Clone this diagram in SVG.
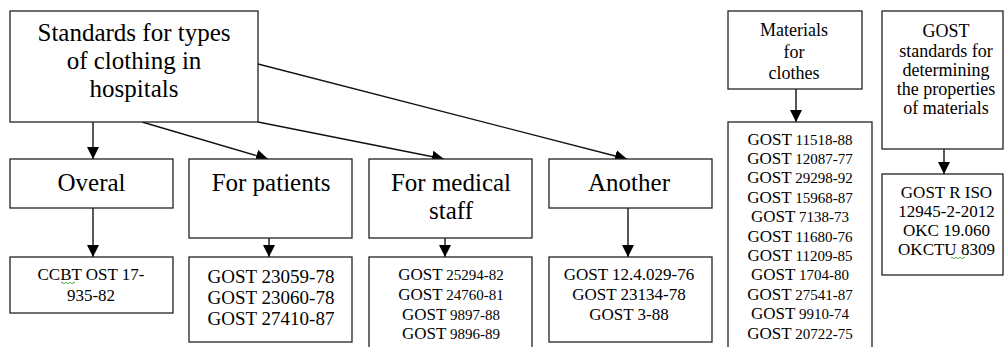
<svg xmlns="http://www.w3.org/2000/svg" width="1005" height="347" viewBox="0 0 1005 347">
<style>
.box{fill:#fff;stroke:#222;stroke-width:1.3}
.t{font-family:"Liberation Serif","Times New Roman",serif;fill:#000;text-anchor:middle}
.big{font-size:25px}
.m{font-size:17px}
.n{font-size:15px}
.g{font-size:17px}
.c{stroke:#111;stroke-width:1.4;fill:none;marker-end:url(#ah)}
.sq{stroke:#3a3;stroke-width:0.9;fill:none}
</style>
<defs>
<marker id="ah" markerUnits="userSpaceOnUse" markerWidth="13" markerHeight="13" refX="12" refY="6" orient="auto">
<path d="M0,0 L12,6 L0,12 z" fill="#000"/>
</marker>
</defs>
<rect width="1005" height="347" fill="#fff"/>
<g id="connectors">
<line class="c" x1="93" y1="122" x2="93" y2="159"/>
<line class="c" x1="142" y1="122" x2="268" y2="159"/>
<line class="c" x1="258" y1="122" x2="444" y2="159"/>
<line class="c" x1="258" y1="64" x2="627" y2="159"/>
<line class="c" x1="93" y1="208" x2="93" y2="257"/>
<line class="c" x1="269" y1="238" x2="269" y2="257"/>
<line class="c" x1="445" y1="238" x2="445" y2="257"/>
<line class="c" x1="628" y1="208" x2="628" y2="257"/>
<line class="c" x1="796" y1="89" x2="796" y2="122"/>
<line class="c" x1="944" y1="149" x2="944" y2="174"/>
</g>
<g id="root">
<rect class="box" x="10" y="11" width="248" height="111"/>
<text class="t big" x="134" y="41">Standards for types</text>
<text class="t big" x="134" y="69">of clothing in</text>
<text class="t big" x="134" y="97">hospitals</text>
</g>
<g id="overal">
<rect class="box" x="10" y="159" width="163" height="49"/>
<text class="t big" x="91.5" y="190.5">Overal</text>
</g>
<g id="patients">
<rect class="box" x="189" y="159" width="163" height="79"/>
<text class="t big" x="271" y="190.5">For patients</text>
</g>
<g id="medical">
<rect class="box" x="369" y="159" width="163" height="79"/>
<text class="t big" x="451" y="190.5">For medical</text>
<text class="t big" x="451" y="218.5">staff</text>
</g>
<g id="another">
<rect class="box" x="549" y="159" width="163" height="49"/>
<text class="t big" x="629" y="190.5">Another</text>
</g>
<g id="overal-list">
<rect class="box" x="10" y="257" width="163" height="56"/>
<text class="t m" x="91" y="280">CCBT OST 17-</text>
<text class="t m" x="91" y="300.5">935-82</text>
<path class="sq" d="M61,283 q1,-1.5 2,0 t2,0 t2,0 t2,0 t2,0 t2,0 t2,0"/>
</g>
<g id="patients-list">
<rect class="box" x="189" y="257" width="163" height="85"/>
<text class="t" style="font-size:19px" x="271" y="283">GOST 23059-78</text>
<text class="t" style="font-size:19px" x="271" y="304">GOST 23060-78</text>
<text class="t" style="font-size:19px" x="271" y="325">GOST 27410-87</text>
</g>
<g id="medical-list">
<rect class="box" x="369" y="257" width="163" height="95"/>
<text class="t" x="451" y="280"><tspan class="g">GOST</tspan><tspan class="n"> 25294-82</tspan></text>
<text class="t" x="451" y="300"><tspan class="g">GOST</tspan><tspan class="n"> 24760-81</tspan></text>
<text class="t" x="451" y="319.5"><tspan class="g">GOST</tspan><tspan class="n"> 9897-88</tspan></text>
<text class="t" x="451" y="339"><tspan class="g">GOST</tspan><tspan class="n"> 9896-89</tspan></text>
</g>
<g id="another-list">
<rect class="box" x="549" y="257" width="163" height="85"/>
<text class="t m" x="629" y="279.5">GOST 12.4.029-76</text>
<text class="t m" x="629" y="299.5">GOST 23134-78</text>
<text class="t m" x="629" y="319.5">GOST 3-88</text>
</g>
<g id="materials">
<rect class="box" x="728" y="11" width="134" height="78"/>
<text class="t" style="font-size:18px" x="794" y="36">Materials</text>
<text class="t" style="font-size:18px" x="794" y="57.5">for</text>
<text class="t" style="font-size:18px" x="794" y="79">clothes</text>
</g>
<g id="materials-list">
<rect class="box" x="728" y="122" width="144" height="230"/>
<text class="t" x="800" y="144.5"><tspan class="g">GOST</tspan><tspan class="n"> 11518-88</tspan></text>
<text class="t" x="800" y="163.9"><tspan class="g">GOST</tspan><tspan class="n"> 12087-77</tspan></text>
<text class="t" x="800" y="183.3"><tspan class="g">GOST</tspan><tspan class="n"> 29298-92</tspan></text>
<text class="t" x="800" y="202.7"><tspan class="g">GOST</tspan><tspan class="n"> 15968-87</tspan></text>
<text class="t" x="800" y="222.1"><tspan class="g">GOST</tspan><tspan class="n"> 7138-73</tspan></text>
<text class="t" x="800" y="241.5"><tspan class="g">GOST</tspan><tspan class="n"> 11680-76</tspan></text>
<text class="t" x="800" y="260.9"><tspan class="g">GOST</tspan><tspan class="n"> 11209-85</tspan></text>
<text class="t" x="800" y="280.3"><tspan class="g">GOST</tspan><tspan class="n"> 1704-80</tspan></text>
<text class="t" x="800" y="299.7"><tspan class="g">GOST</tspan><tspan class="n"> 27541-87</tspan></text>
<text class="t" x="800" y="319.1"><tspan class="g">GOST</tspan><tspan class="n"> 9910-74</tspan></text>
<text class="t" x="800" y="338.5"><tspan class="g">GOST</tspan><tspan class="n"> 20722-75</tspan></text>
</g>
<g id="gost-standards">
<rect class="box" x="882" y="11" width="121" height="138"/>
<text class="t" style="font-size:18px" x="946" y="36.5">GOST</text>
<text class="t" style="font-size:18px" x="946" y="56.5">standards for</text>
<text class="t" style="font-size:18px" x="946" y="75.5">determining</text>
<text class="t" style="font-size:18px" x="946" y="95">the properties</text>
<text class="t" style="font-size:18px" x="946" y="114">of materials</text>
</g>
<g id="gost-iso">
<rect class="box" x="882" y="174" width="121" height="101"/>
<text class="t m" x="946.5" y="197.5">GOST R ISO</text>
<text class="t m" x="946.5" y="216.5">12945-2-2012</text>
<text class="t m" x="946.5" y="236">OKC 19.060</text>
<text class="t m" x="946.5" y="255">OKCTU 8309</text>
<path class="sq" d="M951,258 q1,-1.5 2,0 t2,0 t2,0 t2,0 t2,0 t2,0 t2,0"/>
</g>
</svg>
